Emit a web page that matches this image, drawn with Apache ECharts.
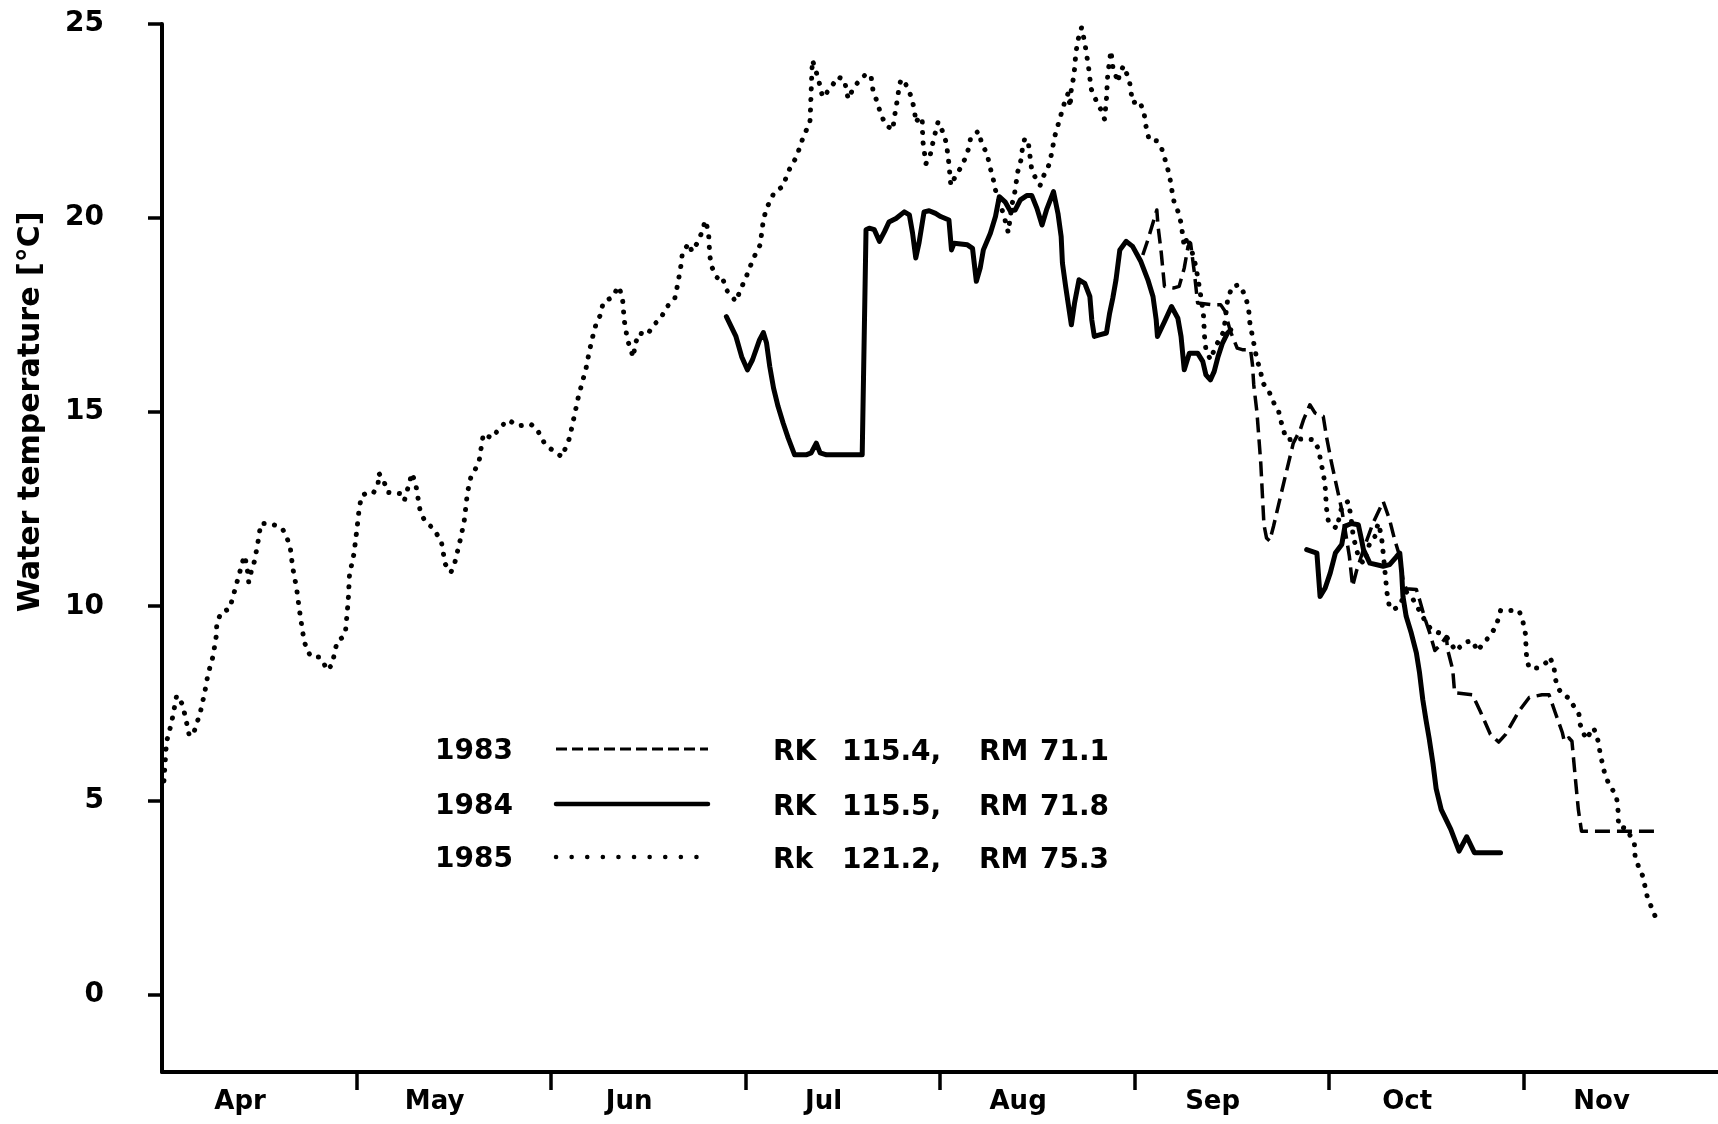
<!DOCTYPE html>
<html>
<head>
<meta charset="utf-8">
<title>Water temperature 1983-1985</title>
<script src="https://cdn.jsdelivr.net/npm/echarts@6/dist/echarts.min.js"></script>
<style>
  html, body { margin: 0; padding: 0; background: #fff; }
  #chart { width: 1718px; height: 1124px; }
</style>
</head>
<body>
<div id="chart"></div>
<script>
// Season axis: days counted from 1 April, each month drawn as 30.5 days.
const MONTH_LEN = 30.5;
const monthNames = ['Apr', 'May', 'Jun', 'Jul', 'Aug', 'Sep', 'Oct', 'Nov'];
const yTicks = [0, 5, 10, 15, 20, 25];

// Daily water temperature, [day since 1 Apr, degrees C]
const t1983 = [[153.8,19.05],[154.6,19.44],[156.0,20.21],[156.2,19.78],[156.7,19.1],[157.2,18.24],[158.7,18.2],[159.5,18.24],[160.3,18.71],[160.9,19.27],[161.3,19.35],[161.9,18.58],[162.4,17.81],[164.5,17.77],[166.0,17.77],[166.7,17.6],[167.5,17.1],[168.6,16.65],[169.4,16.61],[170.7,16.61],[171.0,16.22],[171.2,15.7],[171.7,15.0],[172.3,13.69],[172.8,12.1],[173.2,11.76],[173.7,11.68],[174.3,12.06],[175.4,12.83],[176.4,13.52],[177.4,14.2],[178.5,14.55],[179.0,14.8],[180.0,15.19],[180.8,14.98],[182.1,14.89],[182.6,14.37],[183.4,13.69],[184.2,13.09],[185.0,12.49],[185.5,12.0],[186.2,11.28],[186.7,10.51],[187.3,10.9],[188.4,11.46],[189.9,12.14],[191.5,12.7],[192.5,12.23],[193.3,11.71],[194.1,11.28],[194.6,10.68],[195.1,10.45],[196.7,10.43],[197.2,10.17],[198.0,9.7],[198.8,9.31],[199.6,8.86],[200.5,9.01],[201.4,9.22],[201.6,8.88],[202.4,8.37],[202.7,7.77],[205.5,7.72],[206.7,7.3],[208.3,6.7],[209.6,6.5],[210.7,6.7],[212.8,7.3],[214.4,7.65],[216.4,7.72],[217.5,7.72],[218.5,7.25],[219.6,6.74],[219.9,6.52],[220.6,6.61],[221.1,6.52],[221.6,5.62],[222.1,4.76],[222.6,4.2],[234.3,4.2]];

const t1984Summer = [[88.5,17.46],[90.0,16.95],[90.9,16.43],[91.8,16.09],[92.6,16.35],[93.7,16.86],[94.3,17.05],[94.8,16.78],[95.3,16.18],[95.9,15.62],[96.6,15.15],[97.4,14.72],[98.2,14.33],[99.2,13.9],[101.0,13.9],[101.8,13.95],[102.6,14.2],[103.2,13.95],[104.2,13.9],[109.8,13.9],[110.4,19.7],[110.9,19.74],[111.7,19.7],[112.5,19.4],[113.3,19.65],[114.0,19.9],[115.1,19.99],[116.4,20.16],[117.2,20.08],[117.7,19.61],[118.2,18.97],[118.7,19.35],[119.5,20.16],[120.3,20.19],[121.3,20.12],[122.1,20.04],[123.4,19.95],[123.8,19.18],[124.2,19.35],[126.3,19.31],[127.1,19.22],[127.7,18.37],[128.3,18.71],[128.8,19.18],[129.9,19.61],[130.7,20.04],[131.3,20.55],[132.2,20.42],[133.0,20.19],[133.8,20.21],[134.6,20.47],[135.6,20.58],[136.4,20.58],[137.2,20.25],[138.0,19.82],[138.7,20.21],[139.8,20.68],[140.5,20.12],[141.0,19.52],[141.2,18.84],[141.7,18.24],[142.6,17.25],[143.1,17.81],[143.8,18.41],[144.7,18.32],[145.5,17.98],[145.8,17.38],[146.2,16.95],[147.0,16.99],[148.1,17.04],[148.6,17.55],[149.1,17.94],[149.6,18.41],[150.2,19.18],[151.2,19.4],[152.2,19.27],[153.5,18.88],[154.6,18.41],[155.4,17.98],[155.9,17.38],[156.1,16.95],[157.2,17.33],[158.3,17.72],[159.3,17.42],[159.8,16.95],[160.3,16.09],[161.1,16.52],[162.4,16.52],[163.2,16.31],[163.7,15.96],[164.4,15.83],[165.0,16.05],[165.6,16.43],[166.3,16.78],[167.1,17.04],[167.6,17.12]];

const t1984Autumn = [[179.5,11.46],[181.1,11.37],[181.6,10.25],[182.4,10.47],[183.2,10.86],[184.0,11.37],[185.0,11.59],[185.5,12.06],[186.5,12.13],[187.6,12.1],[188.1,11.71],[188.4,11.46],[189.4,11.11],[191.5,11.03],[192.5,11.07],[193.6,11.28],[194.1,11.37],[194.4,10.86],[194.6,10.25],[195.1,9.74],[195.9,9.31],[196.7,8.8],[197.2,8.28],[197.7,7.6],[198.2,7.08],[198.7,6.6],[199.3,5.95],[199.8,5.3],[200.6,4.76],[202.1,4.25],[203.4,3.69],[204.6,4.06],[205.8,3.65],[209.9,3.65]];

const t1985 = [[0.3,5.5],[0.5,6.0],[0.7,6.5],[1.5,7.0],[2.3,7.7],[3.1,7.5],[3.6,7.2],[4.3,6.65],[5.1,6.8],[6.0,7.26],[6.7,7.78],[7.2,8.24],[8.0,8.71],[8.5,9.22],[8.6,9.57],[9.3,9.85],[10.6,9.93],[12.9,11.3],[13.3,11.07],[13.6,10.62],[14.0,10.9],[14.5,11.16],[15.0,11.6],[15.5,12.13],[16.8,12.13],[18.1,12.07],[18.9,11.99],[19.5,11.8],[20.1,11.53],[20.5,10.99],[21.1,10.47],[21.5,9.96],[22.0,9.4],[22.3,9.1],[22.8,8.84],[23.5,8.69],[24.7,8.69],[25.4,8.52],[25.9,8.35],[26.7,8.5],[27.1,8.84],[27.5,9.1],[28.5,9.22],[28.8,9.4],[29.2,10.14],[29.4,10.81],[30.1,11.35],[30.6,12.03],[30.9,12.49],[31.3,12.85],[32.7,12.96],[33.2,12.93],[33.9,13.19],[34.0,13.43],[34.9,13.17],[35.4,12.93],[37.4,12.9],[38.0,12.72],[38.7,13.13],[39.2,13.43],[39.8,13.13],[40.5,12.44],[41.2,12.2],[42.6,11.99],[43.8,11.67],[44.4,11.09],[45.3,10.87],[45.9,11.11],[46.9,11.8],[47.4,12.21],[47.9,12.93],[48.4,13.3],[49.7,13.71],[50.0,14.03],[50.4,14.44],[51.7,14.33],[53.1,14.62],[54.3,14.8],[55.8,14.65],[57.9,14.68],[58.7,14.59],[60.0,14.19],[61.0,14.05],[62.7,13.85],[63.9,14.33],[64.6,14.86],[65.3,15.4],[65.9,15.77],[66.5,16.13],[67.0,16.56],[67.5,16.92],[68.0,17.23],[68.7,17.49],[69.2,17.83],[70.6,17.96],[71.6,18.24],[72.2,17.96],[72.5,17.35],[73.0,16.86],[73.9,16.41],[74.2,16.75],[74.8,17.04],[76.1,16.99],[77.0,17.23],[78.2,17.42],[79.2,17.72],[80.4,17.92],[80.9,18.32],[81.4,18.8],[81.6,19.1],[82.6,19.35],[83.1,19.14],[83.9,19.35],[84.6,19.61],[85.2,19.94],[85.7,19.64],[85.9,19.03],[86.2,18.75],[86.9,18.49],[87.6,18.39],[87.9,18.45],[88.6,18.13],[90.0,17.85],[90.7,18.15],[91.6,18.48],[92.3,18.78],[93.0,19.05],[93.8,19.31],[94.3,19.95],[94.8,20.25],[96.0,20.66],[97.3,20.81],[98.4,21.26],[99.5,21.58],[100.6,22.11],[101.6,22.46],[101.7,22.83],[101.8,23.28],[101.9,23.75],[102.0,24.07],[102.9,23.6],[103.6,23.11],[104.8,23.34],[106.0,23.64],[107.0,23.56],[107.6,23.07],[108.4,23.34],[109.6,23.6],[110.6,23.73],[111.2,23.64],[111.5,23.28],[112.2,22.97],[112.7,22.68],[113.5,22.4],[114.6,22.27],[114.8,22.55],[115.3,23.04],[115.6,23.39],[115.9,23.58],[116.9,23.39],[117.5,23.11],[118.0,22.79],[118.2,22.46],[118.7,22.59],[119.2,22.59],[119.3,22.0],[119.8,21.4],[120.5,21.65],[121.0,22.03],[121.7,22.48],[122.5,22.2],[123.0,21.93],[123.4,21.4],[123.7,20.84],[124.4,21.07],[125.4,21.34],[126.0,21.56],[126.5,21.8],[126.8,22.06],[128.0,22.24],[128.6,21.9],[129.4,21.65],[129.8,21.33],[130.3,21.05],[130.6,20.77],[132.0,20.08],[132.7,19.63],[133.3,20.36],[133.7,20.64],[134.2,21.2],[134.7,21.5],[134.9,21.76],[135.3,22.06],[135.9,21.88],[136.4,21.22],[137.0,21.03],[137.7,20.84],[138.2,21.07],[139.2,21.41],[140.0,22.11],[141.0,22.68],[141.5,22.96],[142.1,23.22],[142.4,22.86],[142.6,23.34],[143.0,23.66],[143.3,24.24],[143.6,24.57],[144.2,24.91],[144.7,24.52],[145.3,23.88],[145.7,23.33],[146.4,23.06],[147.2,22.8],[147.8,22.55],[148.1,23.07],[148.3,23.69],[148.8,24.31],[149.1,23.9],[149.9,23.5],[150.2,23.75],[150.8,23.92],[151.7,23.54],[152.2,22.97],[153.3,23.02],[154.0,22.7],[154.3,22.37],[154.8,22.01],[156.0,21.99],[156.8,21.77],[157.4,21.45],[158.0,21.09],[158.3,20.77],[158.7,20.42],[159.4,20.14],[159.8,19.87],[160.3,19.27],[160.8,19.52],[161.9,18.92],[162.4,18.49],[162.9,17.98],[163.3,17.55],[163.5,16.91],[163.7,16.61],[164.4,16.35],[165.2,16.69],[166.5,17.08],[167.1,17.89],[167.8,18.24],[168.9,18.28],[169.9,18.0],[170.4,17.64],[170.6,17.29],[171.2,16.78],[171.7,16.35],[172.3,16.05],[172.5,15.79],[173.7,15.49],[174.4,15.22],[175.1,15.02],[175.8,14.55],[176.4,14.29],[179.0,14.31],[180.6,14.29],[181.4,14.03],[181.7,13.73],[182.1,13.43],[182.4,13.09],[182.6,12.53],[182.9,12.19],[183.6,12.06],[184.3,12.01],[184.7,12.4],[185.2,12.62],[186.0,12.7],[186.3,12.44],[186.5,12.23],[186.8,11.8],[187.2,11.54],[187.6,11.28],[188.4,11.1],[189.4,11.63],[190.2,11.8],[190.7,12.14],[191.2,11.84],[191.5,11.37],[191.7,11.03],[191.9,10.68],[192.1,10.34],[192.5,9.96],[193.1,9.91],[194.0,10.0],[195.1,10.38],[196.2,10.17],[197.8,9.7],[199.0,9.4],[200.3,9.31],[201.4,9.22],[202.9,8.84],[204.2,9.07],[205.5,9.11],[206.3,8.84],[207.0,9.01],[208.1,9.21],[209.2,9.48],[209.9,9.89],[211.5,9.89],[212.8,9.89],[213.4,9.61],[213.8,9.29],[213.9,8.95],[214.0,8.64],[214.4,8.41],[215.8,8.41],[217.0,8.54],[217.6,8.69],[218.3,8.45],[218.4,8.18],[218.9,7.9],[219.6,7.72],[220.6,7.64],[221.4,7.42],[222.2,7.21],[222.4,6.95],[223.3,6.57],[224.5,6.87],[225.3,6.48],[225.5,6.22],[226.3,5.64],[227.1,5.35],[228.0,5.15],[228.3,4.85],[228.4,4.33],[229.7,4.27],[230.9,3.86],[231.0,3.56],[231.6,3.26],[232.2,3.05],[232.9,2.52],[233.6,2.23],[234.1,2.03]];

// Legend rows: year and sampling station
const legendYears = ['1983', '1984', '1985'];
const legendSites = ['RK 115.4, RM 71.1', 'RK 115.5, RM 71.8', 'Rk 121.2, RM 75.3'];

const FONT = '"DejaVu Sans", "Liberation Sans", sans-serif';
const INK = '#000';

const styleDashed = { color: INK, width: 3.5, type: [15, 7], cap: 'butt', join: 'round' };
const styleSolid  = { color: INK, width: 5, type: 'solid', cap: 'round', join: 'round' };
const styleDotted = { color: INK, width: 5, type: [0.1, 10.5], cap: 'round', join: 'round' };

const monthTicks = monthNames.slice(1).map((m, i) => (i + 1) * MONTH_LEN);
const monthLabelPos = monthNames.map((m, i) => i * MONTH_LEN + MONTH_LEN / 2 - 3);

function lineSeries(name, data, style) {
  return {
    name: name, type: 'line', data: data,
    showSymbol: false, symbol: 'none', smooth: false,
    lineStyle: style, silent: true, z: 3
  };
}

// Legend drawn as free graphics: year, line sample, station text
const legendRowY = [752, 807, 860];
const legendSampleStyles = [
  { lineWidth: 3, lineDash: [11, 5], lineCap: 'butt' },
  { lineWidth: 4.5, lineDash: null, lineCap: 'round' },
  { lineWidth: 4.5, lineDash: [0.1, 15.5], lineCap: 'round' }
];
const siteColumns = [773, 842, 979, 1040];
const graphics = [];
legendYears.forEach((yr, i) => {
  const y = legendRowY[i];
  graphics.push({
    type: 'text', x: 435, y: y,
    style: { text: yr, font: 'bold 28px ' + FONT, fill: INK, textAlign: 'left', textVerticalAlign: 'middle' }
  });
  graphics.push({
    type: 'line', shape: { x1: 556, y1: y - 3, x2: 708, y2: y - 3 },
    style: Object.assign({ stroke: INK }, legendSampleStyles[i])
  });
  legendSites[i].split(' ').forEach((part, k) => {
    graphics.push({
      type: 'text', x: siteColumns[k], y: y + 1,
      style: { text: part, font: 'bold 28px ' + FONT, fill: INK, textAlign: 'left', textVerticalAlign: 'middle' }
    });
  });
});
graphics.push({
  type: 'text', x: 31, y: 412, rotation: Math.PI / 2,
  style: { text: 'Water temperature [°C]', font: 'bold 30px ' + FONT, fill: INK, textAlign: 'center', textVerticalAlign: 'middle' }
});

const chart = echarts.init(document.getElementById('chart'), null, { renderer: 'canvas' });
chart.setOption({
  animation: false,
  backgroundColor: '#fff',
  grid: { left: 162, right: -9, top: 24, bottom: 52, containLabel: false },
  xAxis: {
    type: 'value', min: 0, max: MONTH_LEN * monthNames.length,
    splitLine: { show: false },
    axisLine: { show: true, onZero: false, lineStyle: { color: INK, width: 4 } },
    axisTick: { show: true, inside: false, length: 18, customValues: monthTicks, lineStyle: { color: INK, width: 3.5 } },
    axisLabel: {
      show: true, customValues: monthLabelPos, margin: 17,
      color: INK, fontFamily: FONT, fontWeight: 'bold', fontSize: 26,
      formatter: v => monthNames[Math.floor(v / MONTH_LEN)]
    }
  },
  yAxis: {
    type: 'value', min: -2, max: 25,
    splitLine: { show: false },
    axisLine: { show: true, onZero: false, lineStyle: { color: INK, width: 4 } },
    axisTick: { show: true, inside: false, length: 14, customValues: yTicks, lineStyle: { color: INK, width: 3.5 } },
    axisLabel: {
      show: true, customValues: yTicks, margin: 58,
      color: INK, fontFamily: FONT, fontWeight: 'bold', fontSize: 28
    }
  },
  series: [
    lineSeries('1983', t1983, styleDashed),
    lineSeries('1984', t1984Summer, styleSolid),
    lineSeries('1984 ', t1984Autumn, styleSolid),
    lineSeries('1985', t1985, styleDotted)
  ],
  graphic: graphics
});
</script>
</body>
</html>
